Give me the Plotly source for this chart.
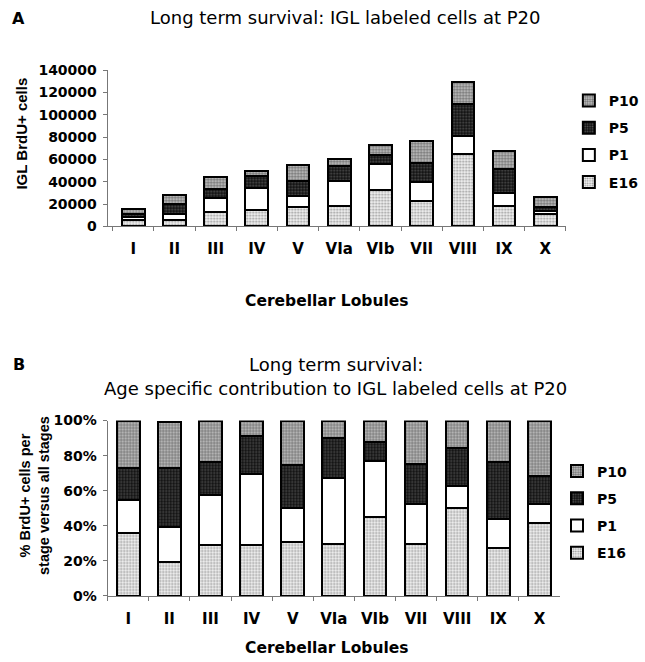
import plotly.graph_objects as go

# ---------------- data ----------------
lobules = ["I", "II", "III", "IV", "V", "VIa", "VIb", "VII", "VIII", "IX", "X"]
stages = ["E16", "P1", "P5", "P10"]

# Panel A: IGL BrdU+ cells (absolute counts, stacked)
a_E16 = [5600, 5400, 12600, 14300, 17000, 17900, 33000, 22800, 65100, 18500, 10800]
a_P1 = [2900, 5600, 12700, 20200, 10500, 22400, 23300, 17400, 16200, 11100, 2900]
a_P5 = [2800, 9400, 8200, 10500, 13300, 13700, 8100, 17100, 28000, 22000, 4000]
a_P10 = [4200, 7600, 10400, 4500, 14100, 6000, 9000, 19100, 20200, 16200, 8300]

# Panel B: % contribution per stage
b_E16 = [36.0, 19.4, 28.8, 28.8, 30.9, 29.8, 45.0, 29.8, 50.3, 27.3, 41.6]
b_P1 = [18.8, 19.9, 28.9, 40.8, 19.2, 37.4, 31.7, 22.8, 12.5, 16.3, 11.0]
b_P5 = [18.1, 33.6, 18.6, 21.3, 24.3, 22.9, 11.0, 22.4, 21.6, 32.5, 15.5]
b_P10 = [27.1, 26.1, 23.7, 9.1, 25.6, 9.9, 12.3, 25.0, 15.6, 23.9, 31.9]

a_vals = {"E16": a_E16, "P1": a_P1, "P5": a_P5, "P10": a_P10}
b_vals = {"E16": b_E16, "P1": b_P1, "P5": b_P5, "P10": b_P10}
legend_rank = {"P10": 1, "P5": 2, "P1": 3, "E16": 4}

# ---------------- styles ----------------
W, H = 645, 662
WIDE = "DejaVu Sans, Verdana, sans-serif"
NARROW = "Liberation Sans, Arial, sans-serif"

def px(x):
    return x / W

def py(y):
    # vertical pixel -> paper, with a small correction for the observed render offset
    yc = (y - 7) / 0.977
    return 1 - yc / H

patterns = {
    "E16": dict(shape=".", fgcolor="#3a3a3a", bgcolor="#f4f4f4", size=3, solidity=0.4),
    "P1": dict(shape="", bgcolor="#ffffff", fgcolor="#ffffff"),
    "P5": dict(shape=".", fgcolor="#999999", bgcolor="#111111", size=3, solidity=0.3),
    "P10": dict(shape=".", fgcolor="#1a1a1a", bgcolor="#c8c8c8", size=3, solidity=0.5),
}

fig = go.Figure()
for s in stages:
    fig.add_trace(go.Bar(
        x=lobules, y=a_vals[s], name=s, xaxis="x", yaxis="y",
        legend="legend", legendgroup="a" + s, legendrank=legend_rank[s],
        marker=dict(color="white", pattern=patterns[s], line=dict(color="black", width=2)),
    ))
for s in stages:
    fig.add_trace(go.Bar(
        x=lobules, y=b_vals[s], name=s, xaxis="x2", yaxis="y2",
        legend="legend2", legendgroup="b" + s, legendrank=legend_rank[s],
        marker=dict(color="white", pattern=patterns[s], line=dict(color="black", width=2)),
    ))

ytickfont = dict(family=WIDE, size=14, color="black", weight="bold")
xtickfont = dict(family=WIDE, size=15, color="black", weight="bold")
axis_common = dict(showline=True, linecolor="#777777", linewidth=1, ticks="outside",
                   ticklen=4, tickcolor="#777777", showgrid=False, zeroline=False)

legend_common = dict(xanchor="left", yanchor="top",
                     font=dict(family=WIDE, size=14, color="black", weight="bold"),
                     traceorder="grouped", tracegroupgap=6, itemwidth=30,
                     bgcolor="rgba(0,0,0,0)")

fig.update_layout(
    width=W, height=H, autosize=False,
    margin=dict(l=0, r=0, t=0, b=0),
    paper_bgcolor="white", plot_bgcolor="white",
    barmode="stack", bargap=0.45,
    font=dict(family=WIDE, color="black"),
    xaxis=dict(domain=[px(109), px(573)], range=[-0.62, 10.5], type="category",
               tickson="boundaries", anchor="y", ticklabelstandoff=9,
               tickfont=xtickfont, **axis_common),
    yaxis=dict(domain=[py(225.7), py(69.3)], range=[0, 140000], dtick=20000,
               tickformat="d", anchor="x", ticklabelstandoff=3,
               tickfont=ytickfont, **axis_common),
    xaxis2=dict(domain=[px(109), px(567)], range=[-0.5, 10.5], type="category",
                tickson="boundaries", anchor="y2", ticklabelstandoff=9,
                tickfont=xtickfont, **axis_common),
    yaxis2=dict(domain=[py(595.7), py(420)], range=[0, 100], dtick=20,
                ticksuffix="%", anchor="x2", ticklabelstandoff=3,
                tickfont=ytickfont, **axis_common),
    legend=dict(x=px(576), y=py(84), **legend_common),
    legend2=dict(x=px(564), y=py(455), **legend_common),
)

def ann(text, x, y, size, bold=False, angle=0, family=WIDE):
    fig.add_annotation(text=text, x=px(x), y=py(y), xref="paper", yref="paper",
                       showarrow=False, textangle=angle, xanchor="center", yanchor="middle",
                       font=dict(family=family, size=size, color="black",
                                 weight="bold" if bold else "normal"))

ann("A", 19, 18, 16, bold=True)
ann("Long term survival: IGL labeled cells at P20", 349, 17, 18)
ann("IGL BrdU+ cells", 22, 133, 15, bold=True, angle=-90, family=NARROW)
ann("Cerebellar Lobules", 331, 300, 15.5, bold=True)

ann("B", 19, 364, 16, bold=True)
ann("Long term survival:", 340, 364, 18)
ann("Age specific contribution to IGL labeled cells at P20", 340, 388, 18)
ann("% BrdU+ cells per<br>stage versus all stages", 35, 495, 14.5, bold=True, angle=-90, family=NARROW)
ann("Cerebellar Lobules", 331, 648, 15.5, bold=True)

fig.write_html(
    "out.html",
    config={"displayModeBar": False},
    post_script=(
        "document.documentElement.style.margin='0px';"
        "document.documentElement.style.overflow='hidden';"
        "document.body.style.margin='0px';"
        "document.body.style.overflow='hidden';"
    ),
)
